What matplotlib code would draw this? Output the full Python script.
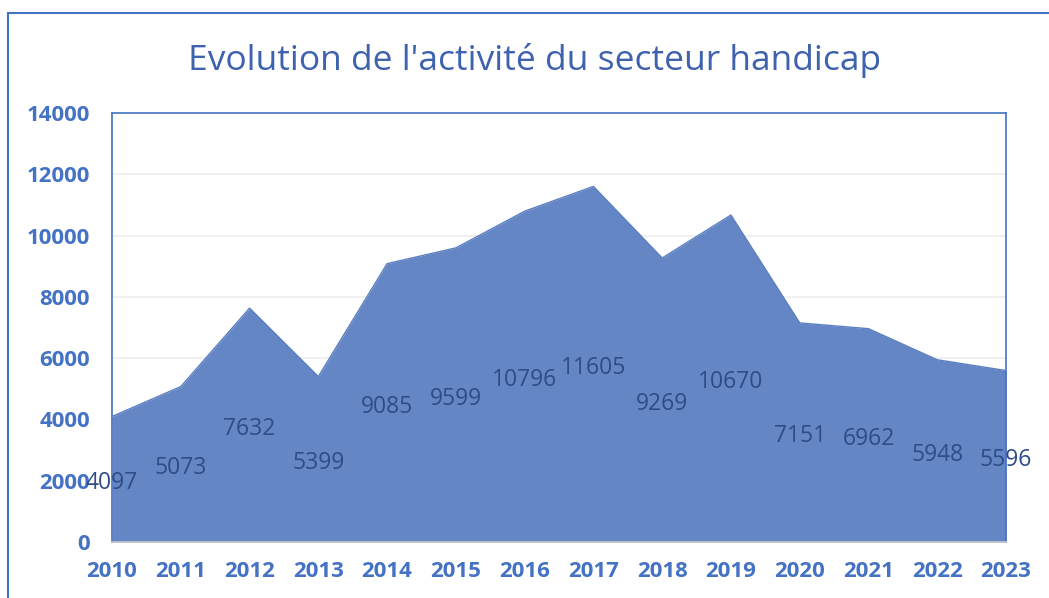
import matplotlib.pyplot as plt
from matplotlib.patches import Rectangle

plt.rcParams['font.family'] = ['Open Sans', 'DejaVu Sans']

years = [2010, 2011, 2012, 2013, 2014, 2015, 2016, 2017, 2018, 2019, 2020, 2021, 2022, 2023]
activite = [4097, 5073, 7632, 5399, 9085, 9599, 10796, 11605, 9269, 10670, 7151, 6962, 5948, 5596]
yticks = [0, 2000, 4000, 6000, 8000, 10000, 12000, 14000]

blue = '#4472C4'
fill = '#6586C4'
label_col = '#2E4C86'

fig = plt.figure(figsize=(10.49, 5.98), dpi=100)
ax = fig.add_axes([0.1068, 0.0936, 0.8522, 0.7174])

ax.fill_between(years, activite, 0, color=fill, linewidth=0, zorder=2)
ax.plot(years, activite, color='#5B7FC0', linewidth=1, zorder=3)

# value labels sit mid-height in the area, as in the original (2010 one overlaps the axis label)
for x, v in zip(years, activite):
    ax.text(x, v / 2 - 120, str(v), ha='center', va='center', fontsize=16.5,
            color=label_col, zorder=4, clip_on=False)

ax.set_xlim(years[0], years[-1])
ax.set_ylim(0, 14000)
ax.set_xticks(years)
ax.set_yticks(yticks)
ax.tick_params(axis='both', length=0, labelsize=16, labelcolor=blue)
ax.tick_params(axis='x', pad=14)
ax.tick_params(axis='y', pad=16)
for lab in ax.get_xticklabels() + ax.get_yticklabels():
    lab.set_fontweight('bold')
ax.grid(axis='y', color='#EEEEEE', linewidth=1.2, zorder=1)
ax.set_axisbelow(True)
for spine in ax.spines.values():
    spine.set_color(blue)
    spine.set_linewidth(1.2)
ax.spines['bottom'].set_color('#C8C8C8')

fig.text(0.51, 0.898, "Evolution de l'activité du secteur handicap", ha='center',
         va='center', fontsize=25.5, color='#3F62AE')

# outer chart frame (cropped at right and bottom)
fig.patches.append(Rectangle((8 / 1049, -0.05), 1.1, 1 - 13 / 598 + 0.05,
                             transform=fig.transFigure, fill=False,
                             edgecolor=blue, linewidth=1.5))

fig.savefig('out.png', dpi=100)
